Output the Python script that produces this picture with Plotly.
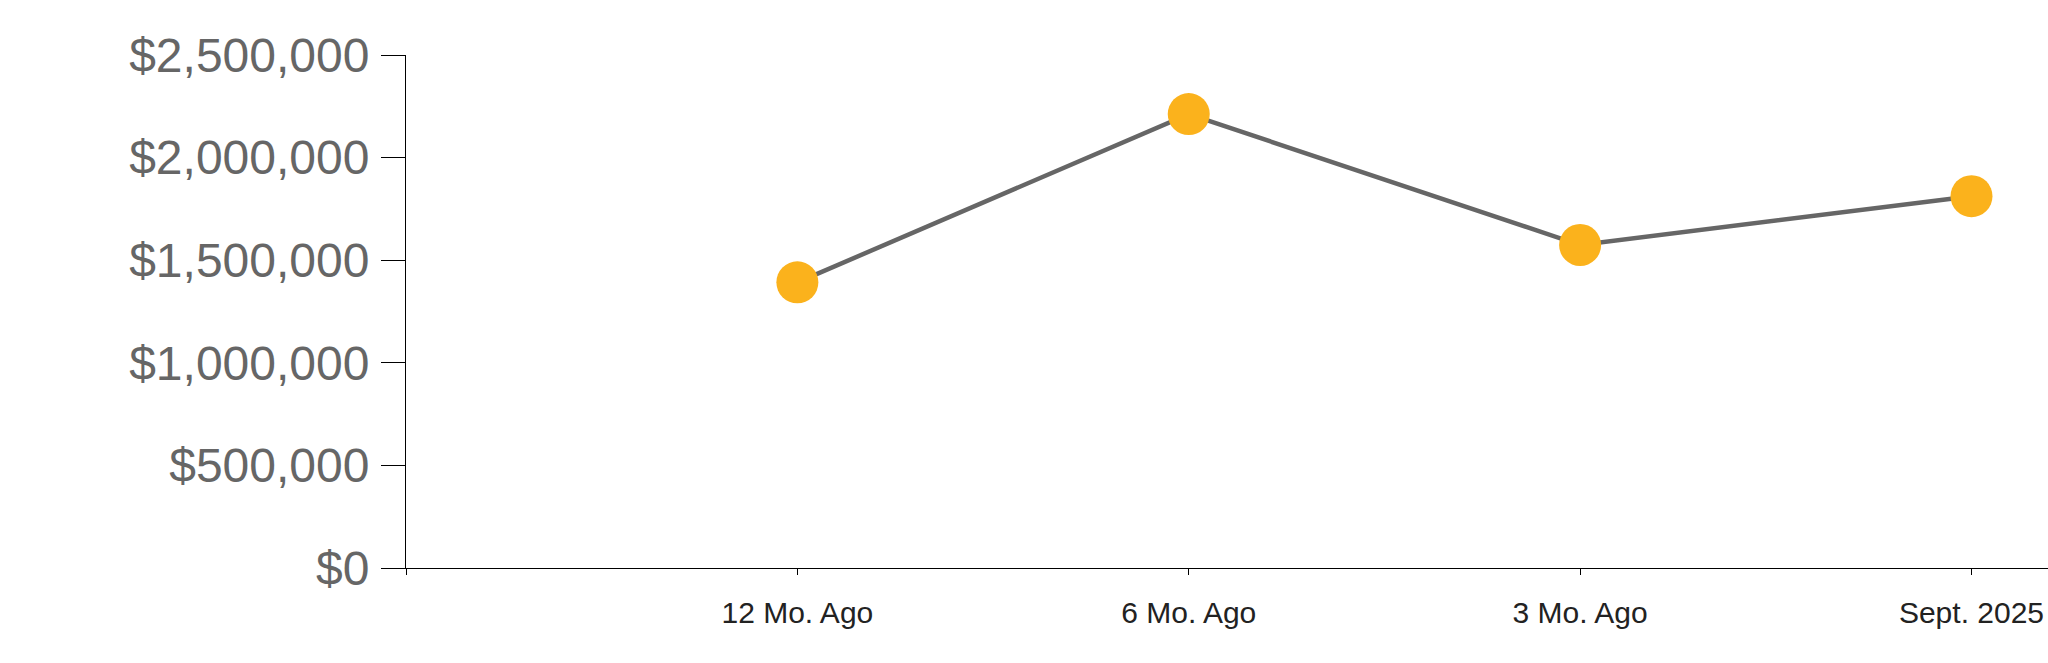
import plotly.graph_objects as go

categories = ["12 Mo. Ago", "6 Mo. Ago", "3 Mo. Ago", "Sept. 2025"]
values = [1392000, 2212000, 1574000, 1812000]
y_tick_vals = [0, 500000, 1000000, 1500000, 2000000, 2500000]
y_tick_text = ["$0", "$500,000", "$1,000,000", "$1,500,000", "$2,000,000", "$2,500,000"]

x_pos = list(range(len(categories)))

fig = go.Figure()
fig.add_trace(go.Scatter(
    x=x_pos, y=values, mode="lines+markers",
    line=dict(color="#666666", width=4.5),
    marker=dict(color="#FBB21C", size=42, line=dict(width=0)),
    hoverinfo="skip", showlegend=False, cliponaxis=False,
))

fig.update_layout(
    width=2048, height=663,
    margin=dict(l=406, r=0, t=55, b=95, pad=0),
    paper_bgcolor="white", plot_bgcolor="white",
    font=dict(family="Arial, Liberation Sans, sans-serif"),
    showlegend=False,
)
fig.update_xaxes(
    range=[-1, 3.1955],
    tickmode="array",
    tickvals=[-1] + x_pos,
    ticktext=[""] + categories,
    ticks="outside", ticklen=6, tickwidth=1, tickcolor="black",
    showline=True, linecolor="black", linewidth=1.3,
    showgrid=False, zeroline=False,
    tickfont=dict(size=30, color="#222222"),
    ticklabelstandoff=12,
    ticklabeloverflow="allow",
)
fig.update_yaxes(
    range=[0, 2500000],
    tickmode="array", tickvals=y_tick_vals, ticktext=y_tick_text,
    ticks="outside", ticklen=24, tickwidth=1, tickcolor="black",
    showline=True, linecolor="black", linewidth=1,
    showgrid=False, zeroline=False,
    tickfont=dict(size=48, color="#666666"),
    ticklabelstandoff=2,
)

fig.write_html(
    "out.html",
    config={"displayModeBar": False},
    post_script="document.body.style.margin='0';document.body.style.overflow='hidden';",
)
